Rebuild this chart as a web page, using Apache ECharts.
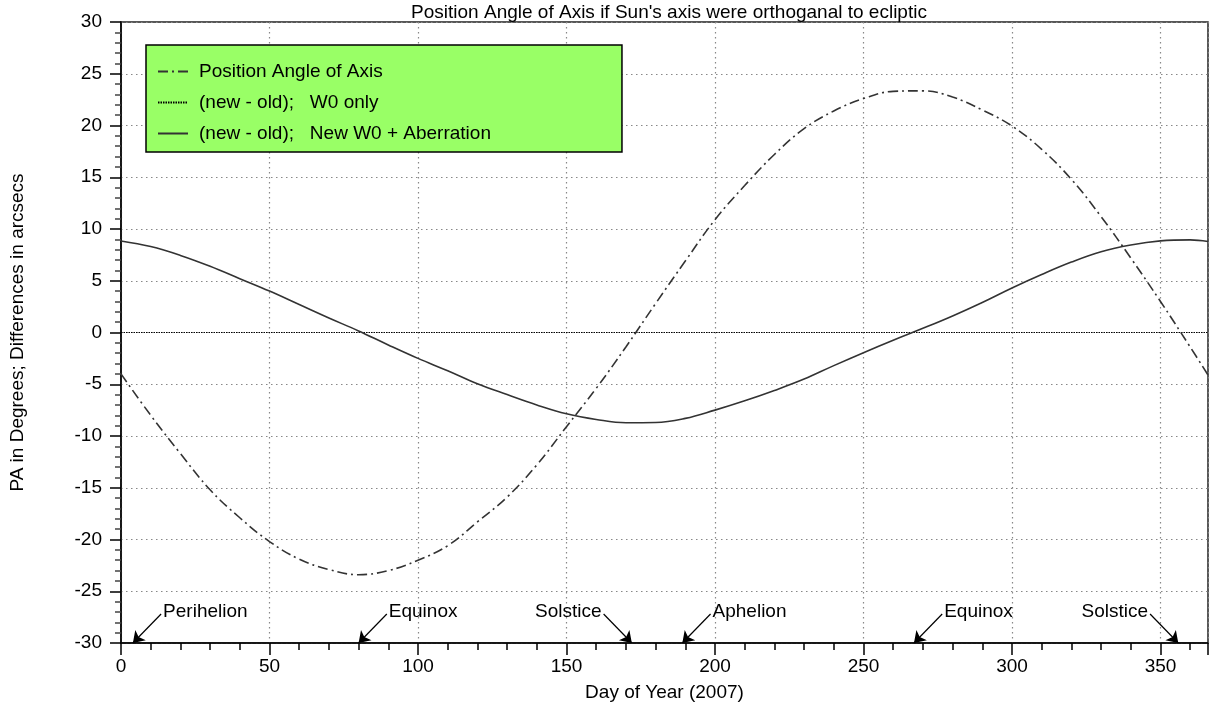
<!doctype html>
<html lang="en">
<head>
  <meta charset="utf-8">
  <title>Position Angle of Axis</title>
  <script src="https://cdn.jsdelivr.net/npm/echarts@6.0.0/dist/echarts.min.js"></script>
  <style>
    html, body { margin: 0; padding: 0; background: #fff; }
    #chart { width: 1212px; height: 711px; }
  </style>
</head>
<body>
  <div id="chart"></div>
  <script>
    // values (day of year)
    var days = [0, 10, 20, 30, 40, 50, 60, 70, 80, 90, 100, 110, 120, 130, 140, 150, 160, 170, 180,
      190, 200, 210, 220, 230, 240, 250, 260, 270, 280, 290, 300, 310, 320, 330, 340, 350, 360, 366];
    var paAxis = [-4.0, -8.0, -11.7, -15.2, -17.9, -20.2, -21.9, -22.9, -23.4, -23.0, -22.0, -20.6, -18.3,
      -15.9, -12.8, -9.1, -5.4, -1.4, 2.8, 6.9, 10.9, 14.2, 17.2, 19.7, 21.4, 22.6, 23.3, 23.35, 22.75,
      21.5, 19.95, 17.7, 14.8, 11.2, 7.2, 3.0, -1.4, -4.1];
    var w0Only = [0, 0];
    var w0Days = [0, 366];
    var w0Aberr = [8.84, 8.3, 7.45, 6.4, 5.2, 4.0, 2.7, 1.4, 0.15, -1.2, -2.5, -3.7, -4.95, -6.0, -7.0,
      -7.85, -8.4, -8.72, -8.7, -8.3, -7.5, -6.6, -5.6, -4.5, -3.2, -1.95, -0.75, 0.4, 1.6, 2.9, 4.3,
      5.6, 6.8, 7.8, 8.45, 8.85, 8.95, 8.8];

    var eventNames = ['Perihelion', 'Equinox', 'Solstice', 'Aphelion', 'Equinox', 'Solstice'];
    var eventDays = [4, 80, 172, 189, 267, 356];
    var eventSide = [1, 1, -1, 1, 1, -1]; // label to the right (1) or left (-1) of the arrow

    var seriesNames = ['Position Angle of Axis', '(new - old);   W0 only', '(new - old);   New W0 + Aberration'];

    var font = 'Liberation Sans, Arial, Helvetica, sans-serif';

    function pairs(xs, ys) {
      return xs.map(function (x, i) { return [x, ys[i]]; });
    }

    var arrows = eventDays.map(function (d, i) {
      return { coords: [[d + eventSide[i] * 9.5, -27.2], [d, -30]] };
    });
    var labels = eventDays.map(function (d, i) {
      return {
        name: eventNames[i],
        value: [d + eventSide[i] * 9.5, -27.2],
        label: { position: eventSide[i] > 0 ? 'right' : 'left' }
      };
    });

    var chart = echarts.init(document.getElementById('chart'));

    var option = {
      animation: false,
      backgroundColor: '#fff',
      textStyle: { fontFamily: font },
      title: {
        text: "Position Angle of Axis if Sun's axis were orthoganal to ecliptic",
        left: 664, top: -2,
        textAlign: 'center',
        textStyle: { fontFamily: font, fontSize: 19, fontWeight: 'normal', color: '#000' }
      },
      legend: {
        data: seriesNames,
        orient: 'vertical',
        left: 146, top: 45,
        backgroundColor: '#99ff66',
        borderColor: '#000',
        borderWidth: 1.5,
        borderRadius: 0,
        padding: [17, 131, 9, 11],
        itemGap: 12,
        itemWidth: 30,
        itemHeight: 14,
        itemStyle: { opacity: 0 },
        selectedMode: false,
        textStyle: { fontFamily: font, fontSize: 19, color: '#000', padding: [0, 0, 0, 6] }
      },
      grid: {
        left: 121, right: 4, top: 22, bottom: 68,
        show: true,
        borderColor: '#222',
        borderWidth: 1.5
      },
      xAxis: {
        type: 'value',
        min: 0, max: 366, interval: 50,
        name: 'Day of Year (2007)',
        nameLocation: 'middle',
        nameGap: 40,
        nameTextStyle: { fontFamily: font, fontSize: 19, color: '#000' },
        axisLine: { show: true, onZero: false, lineStyle: { color: '#000', width: 1.5 } },
        axisTick: { show: true, length: 12, lineStyle: { color: '#000', width: 1.5 } },
        minorTick: { show: true, splitNumber: 5, length: 7, lineStyle: { color: '#000', width: 1.5 } },
        axisLabel: { margin: 14, fontFamily: font, fontSize: 19, color: '#000', showMaxLabel: false },
        splitLine: { show: true, lineStyle: { color: '#888', width: 1.2, type: [1.5, 3.5] } }
      },
      yAxis: {
        type: 'value',
        min: -30, max: 30, interval: 5,
        name: 'PA in Degrees; Differences in arcsecs',
        nameLocation: 'middle',
        nameGap: 94,
        nameTextStyle: { fontFamily: font, fontSize: 19, color: '#000' },
        axisLine: { show: true, onZero: false, lineStyle: { color: '#000', width: 1.5 } },
        axisTick: { show: true, length: 11, lineStyle: { color: '#000', width: 1.5 } },
        minorTick: { show: true, splitNumber: 5, length: 6, lineStyle: { color: '#444', width: 1.5 } },
        axisLabel: { margin: 19, fontFamily: font, fontSize: 19, color: '#000' },
        splitLine: { show: true, lineStyle: { color: '#888', width: 1.2, type: [1.5, 3.5] } }
      },
      series: [
        {
          name: seriesNames[0],
          type: 'line',
          smooth: 0.4,
          symbol: 'none',
          data: pairs(days, paAxis),
          lineStyle: { color: '#333', width: 1.6, type: [10, 4, 2, 4] },
          itemStyle: { color: '#333' },
          z: 4
        },
        {
          name: seriesNames[1],
          type: 'line',
          symbol: 'none',
          data: pairs(w0Days, w0Only),
          lineStyle: { color: '#000', width: 1, type: [1.5, 1] },
          itemStyle: { color: '#000' },
          z: 3
        },
        {
          name: seriesNames[2],
          type: 'line',
          smooth: 0.4,
          symbol: 'none',
          data: pairs(days, w0Aberr),
          lineStyle: { color: '#333', width: 1.6 },
          itemStyle: { color: '#333' },
          z: 4
        },
        {
          name: 'arrows',
          type: 'lines',
          coordinateSystem: 'cartesian2d',
          symbol: ['none', 'arrow'],
          symbolSize: 11,
          data: arrows,
          lineStyle: { color: '#000', width: 1.2, opacity: 1 },
          z: 5
        },
        {
          name: 'events',
          type: 'scatter',
          symbolSize: 0,
          data: labels,
          itemStyle: { color: '#000', opacity: 1 },
          label: {
            show: true,
            formatter: '{b}',
            distance: 2,
            offset: [0, -2],
            fontFamily: font,
            fontSize: 19,
            color: '#000',
            opacity: 1,
            textBorderWidth: 0
          },
          z: 5
        }
      ]
    };

    chart.setOption(option);
  </script>
</body>
</html>
